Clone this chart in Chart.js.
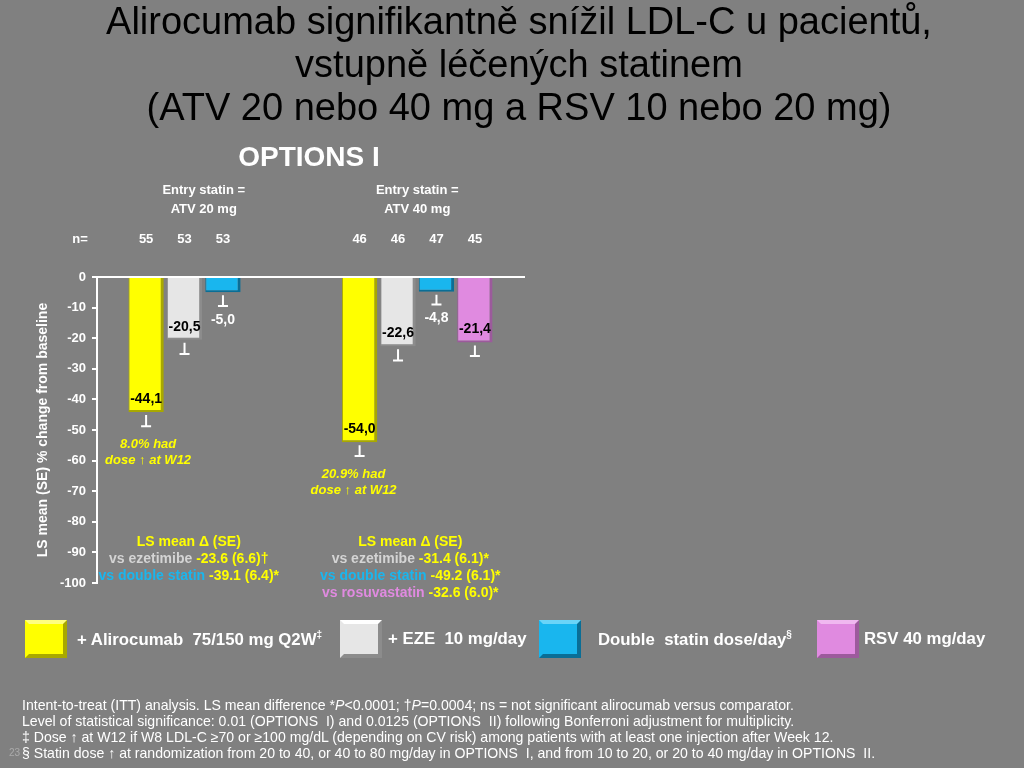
<!DOCTYPE html>
<html>
<head>
<meta charset="utf-8">
<script src="https://cdn.jsdelivr.net/npm/chart.js@4"></script>
<style>
  html,body{margin:0;padding:0;}
  body{width:1024px;height:768px;background:#808080;position:relative;overflow:hidden;font-family:Arial,"Liberation Sans",sans-serif;}
  #c{position:absolute;left:0;top:0;}
  .abs{position:absolute;white-space:pre;}
  #title{left:0;width:1038px;top:0;text-align:center;color:#000;font-size:38px;line-height:43px;white-space:nowrap;}
  #sub{left:200px;width:218px;top:141px;text-align:center;color:#fff;font-weight:bold;font-size:28px;}
  .lg{top:620px;height:38px;display:flex;align-items:center;}
  .sw{width:42px;height:38px;box-sizing:border-box;border:4px solid;margin-right:10px;}
  .lt{color:#fff;font-weight:bold;font-size:16.8px;}
  .lt sup{font-size:10px;}
  #foot{left:22px;top:697px;color:#fff;font-size:14.1px;line-height:16px;white-space:nowrap;}
  #pg{left:9px;top:747px;color:#aaa;font-size:10px;}
</style>
</head>
<body>
<canvas id="c" width="1024" height="768"></canvas>
<div id="title" class="abs">Alirocumab signifikantně snížil LDL-C u pacientů,<br>vstupně léčených statinem<br>(ATV 20 nebo 40 mg a RSV 10 nebo 20 mg)</div>
<div id="sub" class="abs">OPTIONS I</div>
<div id="legend"></div>
<div id="foot" class="abs">Intent-to-treat (ITT) analysis. LS mean difference *<i>P</i>&lt;0.0001; †<i>P</i>=0.0004; ns = not significant alirocumab versus comparator.<br>Level of statistical significance: 0.01 (OPTIONS&nbsp; I) and 0.0125 (OPTIONS&nbsp; II) following Bonferroni adjustment for multiplicity.<br>‡ Dose ↑ at W12 if W8 LDL-C ≥70 or ≥100 mg/dL (depending on CV risk) among patients with at least one injection after Week 12.<br>§ Statin dose ↑ at randomization from 20 to 40, or 40 to 80 mg/day in OPTIONS&nbsp; I, and from 10 to 20, or 20 to 40 mg/day in OPTIONS&nbsp; II.</div>
<div id="pg" class="abs">23</div>
<script>
/* ========== data ========= */
const groups = [["Entry statin =","ATV 20 mg"],["Entry statin =","ATV 40 mg"]];
const seriesNames = ["+ Alirocumab  75/150 mg Q2W", "+ EZE  10 mg/day", "Double  statin dose/day", "RSV 40 mg/day"];
const seriesSup = ["‡", "", "§", ""];
const alirocumab = [-44.1, -54.0];
const ezetimibe  = [-20.5, -22.6];
const doubleStatin = [-5.0, -4.8];
const rosuvastatin = [null, -21.4];
const seAliro = [4.7, 4.5];
const seEze = [4.7, 4.7];
const seDouble = [4.5, 4.2];
const seRsv = [null, 4.4];
const nAliro = [55, 46];
const nEze = [53, 46];
const nDouble = [53, 47];
const nRsv = [null, 45];
const doseUp = ["8.0%", "20.9%"];
const yTicks = [0,-10,-20,-30,-40,-50,-60,-70,-80,-90,-100];
// LS mean difference text per group: [label, value]
const lsMean = [
  [["vs ezetimibe","-23.6 (6.6)†"],["vs double statin","-39.1 (6.4)*"]],
  [["vs ezetimibe","-31.4 (6.1)*"],["vs double statin","-49.2 (6.1)*"],["vs rosuvastatin","-32.6 (6.0)*"]]
];

const fills = ["#FFFF00","#E6E6E6","#19B6EE","#E08AE0"];
const edges = ["#A8A800","#8C8C8C","#0A6E96","#9C5A9C"];
const lights = ["#FFFF80","#FFFFFF","#6AD4F8","#F0B8F0"];
const lsColors = ["#D4D4D4","#19B6EE","#E08AE0"];
const values = [alirocumab, ezetimibe, doubleStatin, rosuvastatin];
const ses = [seAliro, seEze, seDouble, seRsv];
const ns = [nAliro, nEze, nDouble, nRsv];

/* ========== legend (html) ========= */
const lgX = [25, 340, 539, 817];
const lgTextPad = [10, 6, 17, 5];
const $legend = document.getElementById("legend");
seriesNames.forEach((name,i)=>{
  const d = document.createElement("div");
  d.className = "abs lg"; d.style.left = lgX[i]+"px";
  d.innerHTML = `<div class="sw" style="background:${fills[i]};border-color:${lights[i]} ${edges[i]} ${edges[i]} ${fills[i]};margin-right:${lgTextPad[i]}px"></div><span class="lt">${name}${seriesSup[i]?"<sup>"+seriesSup[i]+"</sup>":""}</span>`;
  $legend.appendChild(d);
});

const fmt = v => v.toFixed(1).replace(".", ",");

/* ========== annotations plugin ========= */
const annot = {
  id: "annot",
  afterDatasetsDraw(chart) {
    const ctx = chart.ctx, y = chart.scales.y, x = chart.scales.x;
    ctx.save();
    // error bars
    ctx.strokeStyle = "#fff"; ctx.lineWidth = 2;
    values.forEach((arr, di) => {
      const meta = chart.getDatasetMeta(di);
      arr.forEach((v, gi) => {
        if (v == null) return;
        const bar = meta.data[gi];
        const y0 = y.getPixelForValue(v) + 3, y1 = y.getPixelForValue(v - ses[di][gi]);
        ctx.beginPath(); ctx.moveTo(bar.x, y0); ctx.lineTo(bar.x, y1);
        ctx.moveTo(bar.x - 5, y1); ctx.lineTo(bar.x + 5, y1); ctx.stroke();
      });
    });
    // value labels
    ctx.font = "bold 14px Arial"; ctx.textAlign = "center"; ctx.textBaseline = "middle";
    values.forEach((arr, di) => {
      const meta = chart.getDatasetMeta(di);
      arr.forEach((v, gi) => {
        if (v == null) return;
        const bar = meta.data[gi];
        if (di === 2) {
          ctx.fillStyle = "#fff";
          ctx.fillText(fmt(v), bar.x, y.getPixelForValue(v - ses[di][gi]) + 14);
        } else {
          ctx.fillStyle = "#000";
          ctx.fillText(fmt(v), bar.x, y.getPixelForValue(v) - 13);
        }
      });
    });
    // n= row
    ctx.fillStyle = "#fff"; ctx.font = "bold 13px Arial";
    ctx.fillText("n=", 80, 239);
    ns.forEach((arr, di) => {
      const meta = chart.getDatasetMeta(di);
      arr.forEach((n, gi) => { if (n != null) ctx.fillText(String(n), meta.data[gi].x, 239); });
    });
    // dose-up note
    ctx.fillStyle = "#FFFF00"; ctx.font = "italic bold 13px Arial";
    const m0 = chart.getDatasetMeta(0);
    const noteDx = [2, -6];
    doseUp.forEach((t, gi) => {
      const bx = m0.data[gi].x + noteDx[gi];
      const cap = y.getPixelForValue(alirocumab[gi] - seAliro[gi]);
      ctx.fillText(t + " had", bx, cap + 18);
      ctx.fillText("dose ↑ at W12", bx, cap + 34);
    });
    // LS mean blocks
    const cx = [x.getPixelForValue(0) - 15, x.getPixelForValue(1) - 7];
    ctx.font = "bold 14px Arial";
    lsMean.forEach((rows, gi) => {
      ctx.textAlign = "center"; ctx.fillStyle = "#FFFF00";
      ctx.fillText("LS mean Δ (SE)", cx[gi], 542);
      rows.forEach((r, ri) => {
        const w1 = ctx.measureText(r[0] + " ").width, w2 = ctx.measureText(r[1]).width;
        let sx = cx[gi] - (w1 + w2) / 2;
        ctx.textAlign = "left";
        ctx.fillStyle = lsColors[ri]; ctx.fillText(r[0] + " ", sx, 559 + ri * 17);
        ctx.fillStyle = "#FFFF00"; ctx.fillText(r[1], sx + w1, 559 + ri * 17);
      });
    });
    ctx.restore();
  }
};

/* ========== chart ========= */
new Chart(document.getElementById("c"), {
  type: "bar",
  data: {
    labels: groups,
    datasets: values.map((v, i) => ({
      label: seriesNames[i], data: v,
      backgroundColor: fills[i], borderColor: edges[i],
      borderWidth: {left: 1, right: 3, bottom: 2, top: 0}, borderSkipped: false,
      categoryPercentage: 0.72, barPercentage: 0.92
    }))
  },
  options: {
    responsive: false, animation: false,
    layout: {padding: {left: 0, right: 500, top: 0, bottom: 185}},
    plugins: {legend: {display: false}, tooltip: {enabled: false}},
    scales: {
      x: {
        position: "top",
        grid: {drawOnChartArea: false, drawTicks: false},
        border: {color: "#fff", width: 2},
        ticks: {color: "#fff", font: {family: "Arial", weight: "bold", size: 13, lineHeight: 1.46}, padding: 58},
        afterFit: s => { s.height = 277; }
      },
      y: {
        min: -100, max: 0,
        afterBuildTicks: s => { s.ticks = yTicks.map(v => ({value: v})); },
        grid: {drawOnChartArea: false, color: "#fff", tickLength: 5, lineWidth: 2},
        border: {color: "#fff", width: 2},
        ticks: {color: "#fff", font: {family: "Arial", weight: "bold", size: 13}, padding: 6},
        title: {display: true, text: "LS mean (SE) % change from baseline", color: "#fff",
                font: {family: "Arial", weight: "bold", size: 14}, padding: {top: 35}},
        afterFit: s => { s.width = 97; }
      }
    }
  },
  plugins: [annot]
});
</script>
</body>
</html>
